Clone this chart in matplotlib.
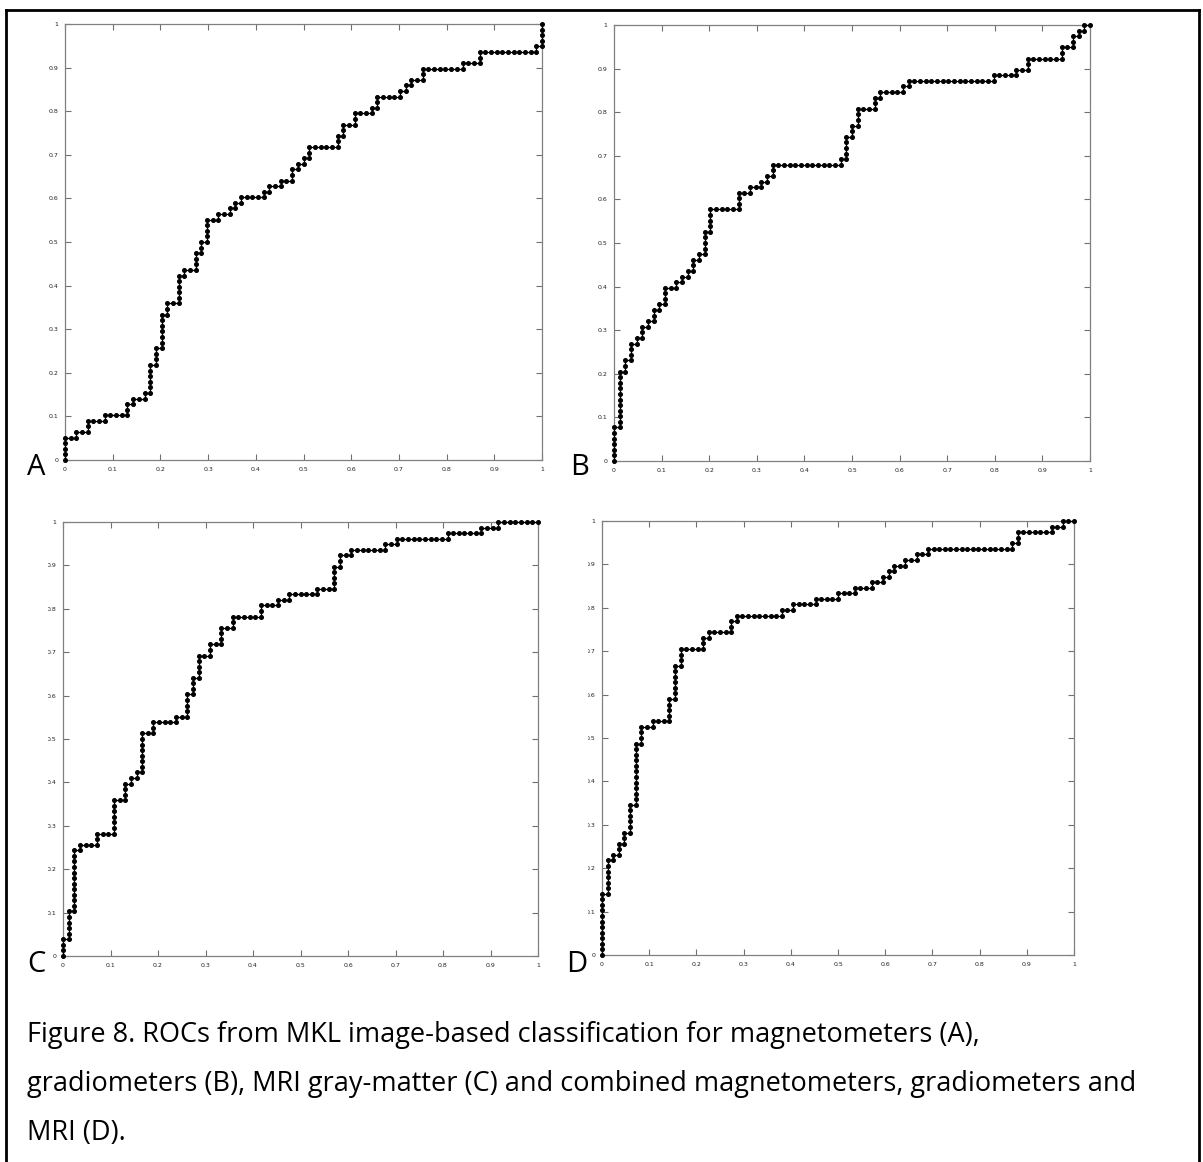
import matplotlib
matplotlib.use("Agg")
import matplotlib.pyplot as plt
import numpy as np
from matplotlib.lines import Line2D
from matplotlib.transforms import Bbox, TransformedBbox

# counts behind every ROC (one dot per threshold)
N_POS = 78
N_NEG = 84

# run lengths of the staircase: up-moves and right-moves, alternating, starting with "up"
A_up = [4, 1, 2, 1, 2, 1, 1, 5, 3, 6, 2, 5, 1, 3, 2, 4, 1, 1, 1, 1,
        1, 1, 1, 2, 1, 1, 2, 2, 2, 2, 1, 2, 1, 1, 1, 2, 1, 2, 1, 4]
A_right = [2, 2, 3, 4, 1, 2, 1, 1, 1, 1, 2, 1, 2, 1, 1, 2, 2, 1, 1, 4,
           1, 2, 2, 1, 1, 1, 5, 1, 2, 3, 1, 4, 1, 1, 2, 7, 3, 10, 1]

B_up = [6, 10, 2, 3, 1, 2, 1, 2, 1, 3, 1, 1, 1, 2, 1, 4, 4, 3, 1, 1,
        1, 2, 1, 4, 2, 3, 2, 1, 1, 1, 1, 1, 2, 2, 2, 1, 1]
B_right = [1, 1, 1, 1, 1, 1, 1, 1, 1, 2, 1, 1, 1, 1, 1, 1, 5, 2, 2, 1,
           1, 12, 1, 1, 1, 3, 1, 4, 1, 15, 4, 2, 6, 2, 1, 1, 1]

C_up = [3, 5, 11, 1, 2, 6, 3, 1, 1, 7, 2, 1, 4, 3, 4, 2, 3, 2, 2, 1,
        1, 1, 4, 2, 1, 1, 1, 1, 1, 1]
C_right = [1, 1, 1, 3, 3, 2, 1, 1, 1, 2, 4, 2, 1, 1, 2, 2, 2, 5, 3, 2,
           5, 3, 1, 2, 6, 2, 9, 6, 3, 7]

D_up = [11, 6, 1, 2, 2, 5, 11, 3, 1, 4, 6, 3, 2, 1, 2, 1, 1, 1, 1, 1,
        1, 1, 1, 1, 1, 1, 1, 1, 1, 2, 1, 1]
D_right = [1, 1, 1, 1, 1, 1, 1, 2, 3, 1, 1, 4, 1, 4, 1, 8, 2, 4, 4, 3,
           3, 2, 1, 1, 2, 2, 2, 15, 1, 6, 2, 2]

tick_vals = [0, 0.1, 0.2, 0.3, 0.4, 0.5, 0.6, 0.7, 0.8, 0.9, 1]
tick_labels = ['0', '0.1', '0.2', '0.3', '0.4', '0.5', '0.6', '0.7', '0.8', '0.9', '1']

panel_letters = ['A', 'B', 'C', 'D']
caption = ["Figure 8. ROCs from MKL image-based classification for magnetometers (A),",
           "gradiometers (B), MRI gray-matter (C) and combined magnetometers, gradiometers and",
           "MRI (D)."]


def roc_path(ups, rights):
    moves = []
    for i, u in enumerate(ups):
        moves += [(0, 1)] * u
        if i < len(rights):
            moves += [(1, 0)] * rights[i]
    pts = np.cumsum(np.array([(0, 0)] + moves), axis=0)
    return pts[:, 0] / N_NEG, pts[:, 1] / N_POS


W, H = 1203, 1162
fig = plt.figure(figsize=(W / 100, H / 100), dpi=100)
fig.patch.set_facecolor('white')

# pixel boxes of the axes: x0, x1, ytop, ybottom
boxes = [(65, 542, 24, 460), (614, 1090, 25, 461),
         (63, 538, 522, 956), (602, 1074, 521, 955)]
clip_left = [48, None, 48, 588]
letter_pos = [(27, 475), (570, 475), (27, 972), (566, 972)]
series = [(A_up, A_right), (B_up, B_right), (C_up, C_right), (D_up, D_right)]

for (x0, x1, yt, yb), (ups, rights), clip, letter, lpos in zip(
        boxes, series, clip_left, panel_letters, letter_pos):
    ax = fig.add_axes([x0 / W, 1 - yb / H, (x1 - x0) / W, (yb - yt) / H])
    fx, fy = roc_path(ups, rights)
    ax.plot(fx, fy, '-', color='black', lw=0.9, marker='o', ms=2.6,
            mfc='black', mec='black', clip_on=False, zorder=3)
    ax.set_xlim(0, 1)
    ax.set_ylim(0, 1)
    ax.set_xticks(tick_vals)
    ax.set_xticklabels(tick_labels)
    ax.set_yticks(tick_vals)
    ax.set_yticklabels(tick_labels)
    ax.tick_params(direction='in', top=True, right=True, length=4, width=0.8,
                   color='#707070', labelsize=4.5, pad=5, labelcolor='#222222')
    for s in ax.spines.values():
        s.set_color('#808080')
        s.set_linewidth(0.9)
    if clip is not None:
        cb = TransformedBbox(Bbox([[clip / W, 0], [1, 1]]), fig.transFigure)
        for lbl in ax.get_yticklabels():
            lbl.set_clip_box(cb)
            lbl.set_clip_on(True)
    fig.text(lpos[0] / W, 1 - lpos[1] / H, letter, fontsize=21,
             family='Open Sans', ha='left', va='baseline')

for i, line in enumerate(caption):
    fig.text(27 / W, 1 - (1042 + 49 * i) / H, line, fontsize=19.5,
             family='Open Sans', ha='left', va='baseline')

# frame round the figure (no bottom edge in the crop)
fig.add_artist(Line2D([6 / W, 6 / W], [0, 1 - 10 / H], transform=fig.transFigure,
                      color='black', lw=2))
fig.add_artist(Line2D([6 / W, 1199 / W], [1 - 10 / H, 1 - 10 / H],
                      transform=fig.transFigure, color='black', lw=2))
fig.add_artist(Line2D([1199 / W, 1199 / W], [0, 1 - 10 / H], transform=fig.transFigure,
                      color='black', lw=2))

fig.savefig('out.png', dpi=100)
